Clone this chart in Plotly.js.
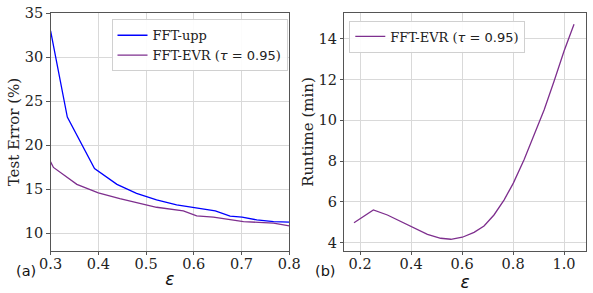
<!DOCTYPE html>
<html>
<head>
<meta charset="utf-8">
<script src="https://cdn.plot.ly/plotly-3.0.1.min.js"></script>
<style>html,body{margin:0;padding:0;background:#fff;}#chart{width:593px;height:293px;}</style>
</head>
<body>
<div id="chart"></div>
<script>
// Panel (a): test error vs epsilon
const eps_upp = [0.300, 0.335, 0.392, 0.439, 0.480, 0.522, 0.564, 0.606, 0.645, 0.676, 0.701, 0.732, 0.767, 0.800];
const err_upp = [33.0, 23.19, 17.35, 15.54, 14.52, 13.77, 13.20, 12.83, 12.52, 11.92, 11.81, 11.50, 11.31, 11.24];
const eps_evr = [0.300, 0.306, 0.355, 0.400, 0.445, 0.487, 0.522, 0.578, 0.606, 0.641, 0.676, 0.704, 0.767, 0.800];
const err_evr = [18.10, 17.47, 15.54, 14.59, 13.91, 13.39, 12.94, 12.52, 11.96, 11.81, 11.50, 11.31, 11.13, 10.83];
// Panel (b): runtime vs epsilon
const eps_rt = [0.176, 0.252, 0.307, 0.360, 0.412, 0.464, 0.516, 0.556, 0.601, 0.647, 0.686, 0.725, 0.765, 0.801, 0.843, 0.882, 0.922, 0.961, 1.000, 1.039];
const runtime = [4.98, 5.61, 5.36, 5.03, 4.71, 4.41, 4.22, 4.17, 4.27, 4.51, 4.82, 5.36, 6.10, 6.92, 8.07, 9.30, 10.52, 11.92, 13.39, 14.70];

const name_upp = 'FFT-upp';
const name_evr = 'FFT-EVR (<span style="font-family:\'DejaVu Sans\'"><i>τ</i> = 0.95</span>)';

const serif = 'DejaVu Serif';
const blue = '#0000ff';
const purple = '#7E2F8E';
const spine = '#555555';
const gridc = '#d9d9d9';

const traces = [
  {x: eps_upp, y: err_upp, name: name_upp, mode: 'lines', line: {color: blue, width: 1.3}, xaxis: 'x', yaxis: 'y', legend: 'legend'},
  {x: eps_evr, y: err_evr, name: name_evr, mode: 'lines', line: {color: purple, width: 1.3}, xaxis: 'x', yaxis: 'y', legend: 'legend'},
  {x: eps_rt, y: runtime, name: name_evr, mode: 'lines', line: {color: purple, width: 1.3}, xaxis: 'x2', yaxis: 'y2', legend: 'legend2'}
];

const axBase = {
  showline: true, linecolor: spine, linewidth: 1, mirror: true,
  ticks: 'outside', ticklen: 3.5, tickcolor: spine, tickwidth: 1,
  showgrid: true, gridcolor: gridc, gridwidth: 1, zeroline: false,
  tickfont: {family: serif, size: 14.5, color: '#222'}
};
const epsTitle = {text: '<i>ε</i>', font: {family: 'DejaVu Sans', size: 17, color: '#111'}, standoff: 2};
const plotTopPx = 13.3, plotBottomPx = 250.7;

const layout = {
  width: 593, height: 293,
  margin: {l: 0, r: 0, t: 0, b: 0},
  paper_bgcolor: '#fff', plot_bgcolor: '#fff',
  showlegend: true,
  xaxis: Object.assign({}, axBase, {domain: [50.6/593, 289.3/593], range: [0.3, 0.8], tickvals: [0.3,0.4,0.5,0.6,0.7,0.8], ticktext: ['0.3','0.4','0.5','0.6','0.7','0.8'], title: epsTitle, anchor: 'y', ticklabelstandoff: -4}),
  yaxis: Object.assign({}, axBase, {domain: [1-plotBottomPx/293, 1-plotTopPx/293], range: [8.0, 35], tickvals: [10,15,20,25,30,35], title: {text: 'Test Error (%)', font: {family: serif, size: 15, color: '#222'}, standoff: 1}, anchor: 'x'}),
  xaxis2: Object.assign({}, axBase, {domain: [344.3/593, 586/593], range: [0.138, 1.086], tickvals: [0.2,0.4,0.6,0.8,1.0], ticktext: ['0.2','0.4','0.6','0.8','1.0'], title: epsTitle, anchor: 'y2', ticklabelstandoff: -4}),
  yaxis2: Object.assign({}, axBase, {domain: [1-plotBottomPx/293, 1-plotTopPx/293], range: [3.61, 15.24], tickvals: [4,6,8,10,12,14], title: {text: 'Runtime (min)', font: {family: serif, size: 15, color: '#222'}, standoff: 1}, anchor: 'x2'}),
  legend: {x: 111.5/593, y: 1-19.3/293, xanchor: 'left', yanchor: 'top', xref: 'paper', yref: 'paper',
           bgcolor: 'rgba(255,255,255,0.9)', bordercolor: '#d0d0d0', borderwidth: 1,
           font: {family: serif, size: 13, color: '#222'}, itemwidth: 30, tracegroupgap: 0},
  legend2: {x: 349.3/593, y: 1-20.5/293, xanchor: 'left', yanchor: 'top', xref: 'paper', yref: 'paper',
           bgcolor: 'rgba(255,255,255,0.9)', bordercolor: '#d0d0d0', borderwidth: 1,
           font: {family: serif, size: 13, color: '#222'}, itemwidth: 30},
  annotations: [
    {text: '(a)', x: 26/593, y: 1-270.5/293, xref: 'paper', yref: 'paper', showarrow: false, xanchor: 'center', yanchor: 'middle', font: {family: 'DejaVu Sans', size: 14.5, color: '#111'}},
    {text: '(b)', x: 325/593, y: 1-270.5/293, xref: 'paper', yref: 'paper', showarrow: false, xanchor: 'center', yanchor: 'middle', font: {family: 'DejaVu Sans', size: 14.5, color: '#111'}}
  ]
};

Plotly.newPlot('chart', traces, layout, {displayModeBar: false, staticPlot: true});
</script>
</body>
</html>
